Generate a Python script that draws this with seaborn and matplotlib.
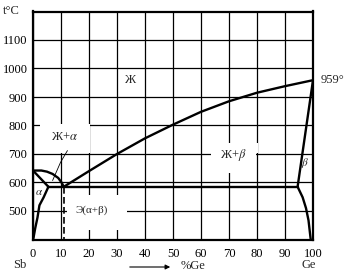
import matplotlib
matplotlib.use("Agg")
import matplotlib.pyplot as plt
from matplotlib.patches import Rectangle, FancyArrowPatch
import seaborn as sns
import pandas as pd

# ---- data ----
liq_sb_x = [0, 3, 5, 7, 9, 10.2, 11]
liq_sb_t = [642, 642, 638, 630, 616, 600, 585]

liq_ge_x = [11, 20, 30, 40, 50, 60, 70, 80, 90, 100]
liq_ge_t = [585, 640, 700, 755, 803, 848, 885, 915, 938, 959]

sol_sb_x = [0, 5.5]
sol_sb_t = [642, 585]

solv_a_x = [5.5, 3.8, 2.3, 1.6, 0.8, 0.2, 0]
solv_a_t = [585, 548, 520, 477, 440, 407, 400]

eut_x = [5.5, 94.5]
eut_t = [585, 585]

sol_ge_x = [100, 94.5]
sol_ge_t = [959, 585]

solv_b_x = [94.5, 96.3, 97.5, 98.4, 99.1, 99.2]
solv_b_t = [585, 548, 510, 467, 407, 400]

dash_x = [11, 11]
dash_t = [585, 400]

leader_x = [12.3, 9.8, 7]
leader_t = [712, 670, 607]

x_ticks = [0, 10, 20, 30, 40, 50, 60, 70, 80, 90, 100]
y_ticks = [400, 500, 600, 700, 800, 900, 1000, 1100, 1200]
y_ticklabels = ["", "500", "600", "700", "800", "900", "1000", "1100", ""]

sns.set_theme(style="white")
plt.rcParams["font.family"] = ["Liberation Serif", "DejaVu Serif"]
plt.rcParams["mathtext.fontset"] = "stix"

fig = plt.figure(figsize=(3.46, 2.80), dpi=100)
ax = fig.add_axes([33 / 346, 1 - 239.5 / 280, 280 / 346, 228 / 280])

ax.set_xlim(0, 100)
ax.set_ylim(400, 1200)
ax.set_xticks(x_ticks)
ax.set_xticklabels([str(v) for v in x_ticks], fontsize=9)
ax.set_yticks(y_ticks)
ax.set_yticklabels(y_ticklabels, fontsize=9)
ax.tick_params(axis="x", length=0, pad=6, colors="black")
ax.tick_params(axis="y", length=0, pad=4, colors="black")
ax.grid(True, color="black", lw=0.9, zorder=0)
ax.set_axisbelow(True)
for s in ax.spines.values():
    s.set_color("black")
    s.set_linewidth(1.6)

curves = [
    (liq_sb_x, liq_sb_t),
    (liq_ge_x, liq_ge_t),
    (sol_sb_x, sol_sb_t),
    (solv_a_x, solv_a_t),
    (eut_x, eut_t),
    (sol_ge_x, sol_ge_t),
    (solv_b_x, solv_b_t),
]
for cx, ct in curves:
    df = pd.DataFrame({"x": cx, "t": ct})
    sns.lineplot(data=df, x="x", y="t", sort=False, estimator=None,
                 color="black", lw=1.7, ax=ax, zorder=5)

df = pd.DataFrame({"x": dash_x, "t": dash_t})
sns.lineplot(data=df, x="x", y="t", sort=False, estimator=None,
             color="black", lw=1.2, ax=ax, zorder=5, linestyle=(0, (4, 2)))
df = pd.DataFrame({"x": leader_x, "t": leader_t})
sns.lineplot(data=df, x="x", y="t", sort=False, estimator=None,
             color="black", lw=0.6, ax=ax, zorder=6)
ax.set_xlabel("")
ax.set_ylabel("")

# white patches that hide the grid behind the labels
for (x0, t0, w, h) in [(2.5, 703, 17.8, 102),
                       (63.4, 703, 17.0, 34),
                       (63.4, 632, 16.3, 105),
                       (12.3, 434, 21.4, 122)]:
    ax.add_patch(Rectangle((x0, t0), w, h, facecolor="white", edgecolor="none", zorder=1))

ax.text(34.5, 961, "Ж", fontsize=9, ha="center", va="center", zorder=7)
ax.text(11.4, 761, "Ж+$\\alpha$", fontsize=9, ha="center", va="center", zorder=7)
ax.text(71.6, 695, "Ж+$\\beta$", fontsize=9, ha="center", va="center", zorder=7)
ax.text(20.9, 502, "Э(α+β)", fontsize=8, ha="center", va="center", zorder=7)
ax.text(97.3, 667, "$\\beta$", fontsize=8, ha="center", va="center", zorder=7)
ax.text(2.1, 566, "$\\alpha$", fontsize=8, ha="center", va="center", zorder=7)
ax.text(102.7, 960, "959°", fontsize=9, ha="left", va="center", clip_on=False)

fig.text(11 / 346, 1 - 11 / 280, "t°C", fontsize=9, ha="center", va="center")
fig.text(20 / 346, 1 - 265 / 280, "Sb", fontsize=9, ha="center", va="center")
fig.text(309 / 346, 1 - 265 / 280, "Ge", fontsize=9, ha="center", va="center")
fig.text(193 / 346, 1 - 266 / 280, "%Ge", fontsize=9, ha="center", va="center")
fig.add_artist(FancyArrowPatch(
    (127 / 346, 1 - 267 / 280), (173 / 346, 1 - 267 / 280),
    transform=fig.transFigure, arrowstyle="-|>", mutation_scale=7, lw=0.8, color="black"))

fig.savefig("out.png", dpi=100, facecolor="white")
